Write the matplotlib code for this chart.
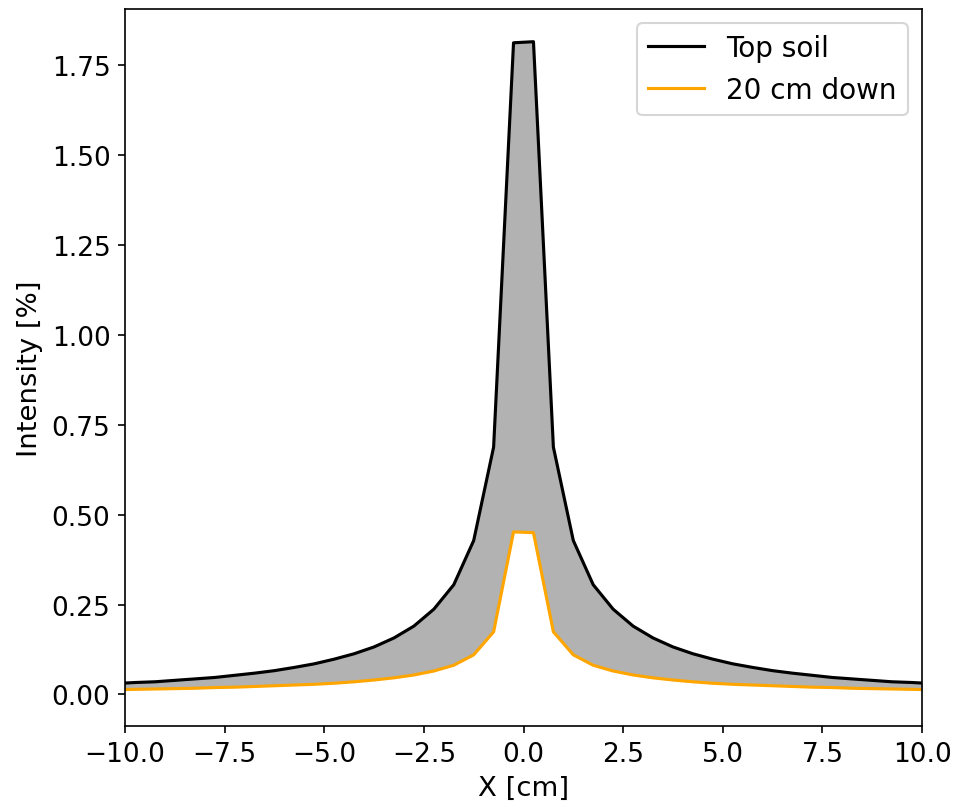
import numpy as np
import matplotlib.pyplot as plt

# positions of the samples [cm]
x = [-10.25, -9.75, -9.25, -8.75, -8.25, -7.75, -7.25, -6.75, -6.25, -5.75,
     -5.25, -4.75, -4.25, -3.75, -3.25, -2.75, -2.25, -1.75, -1.25, -0.75,
     -0.25, 0.25, 0.75, 1.25, 1.75, 2.25, 2.75, 3.25, 3.75, 4.25,
     4.75, 5.25, 5.75, 6.25, 6.75, 7.25, 7.75, 8.25, 8.75, 9.25,
     9.75, 10.25]

# intensity at the surface [%]
top_soil = [0.030, 0.033, 0.035, 0.039, 0.043, 0.047, 0.053, 0.059, 0.066, 0.075,
            0.085, 0.098, 0.113, 0.132, 0.157, 0.190, 0.237, 0.305, 0.428, 0.688,
            1.813, 1.816, 0.688, 0.428, 0.305, 0.237, 0.190, 0.157, 0.132, 0.113,
            0.098, 0.085, 0.075, 0.066, 0.059, 0.053, 0.047, 0.043, 0.039, 0.035,
            0.033, 0.030]

# intensity 20 cm below the surface [%]
down_20cm = [0.013, 0.014, 0.015, 0.016, 0.017, 0.019, 0.020, 0.022, 0.024, 0.026,
             0.028, 0.031, 0.035, 0.040, 0.046, 0.054, 0.065, 0.081, 0.110, 0.174,
             0.452, 0.450, 0.174, 0.110, 0.081, 0.065, 0.054, 0.046, 0.040, 0.035,
             0.031, 0.028, 0.026, 0.024, 0.022, 0.020, 0.019, 0.017, 0.016, 0.015,
             0.014, 0.013]

plt.rcParams['font.size'] = 12.7

fig = plt.figure(figsize=(957 / 150, 805 / 150), dpi=150)
ax = fig.add_axes([125 / 957, 1 - 727 / 805, 797 / 957, 717 / 805])

ax.fill_between(x, down_20cm, top_soil, color='grey', alpha=0.6, linewidth=0)
ax.plot(x, top_soil, color='black', label='Top soil')
ax.plot(x, down_20cm, color='orange', label='20 cm down')

ax.set_xlim(-10, 10)
ax.set_ylim(-0.088, 1.907)
ax.set_xlabel('X [cm]', fontsize=13.2)
ax.set_ylabel('Intensity [%]', fontsize=13.2)
ax.legend(loc='upper right', fontsize=13.4)

fig.savefig('out.png', dpi=150)
